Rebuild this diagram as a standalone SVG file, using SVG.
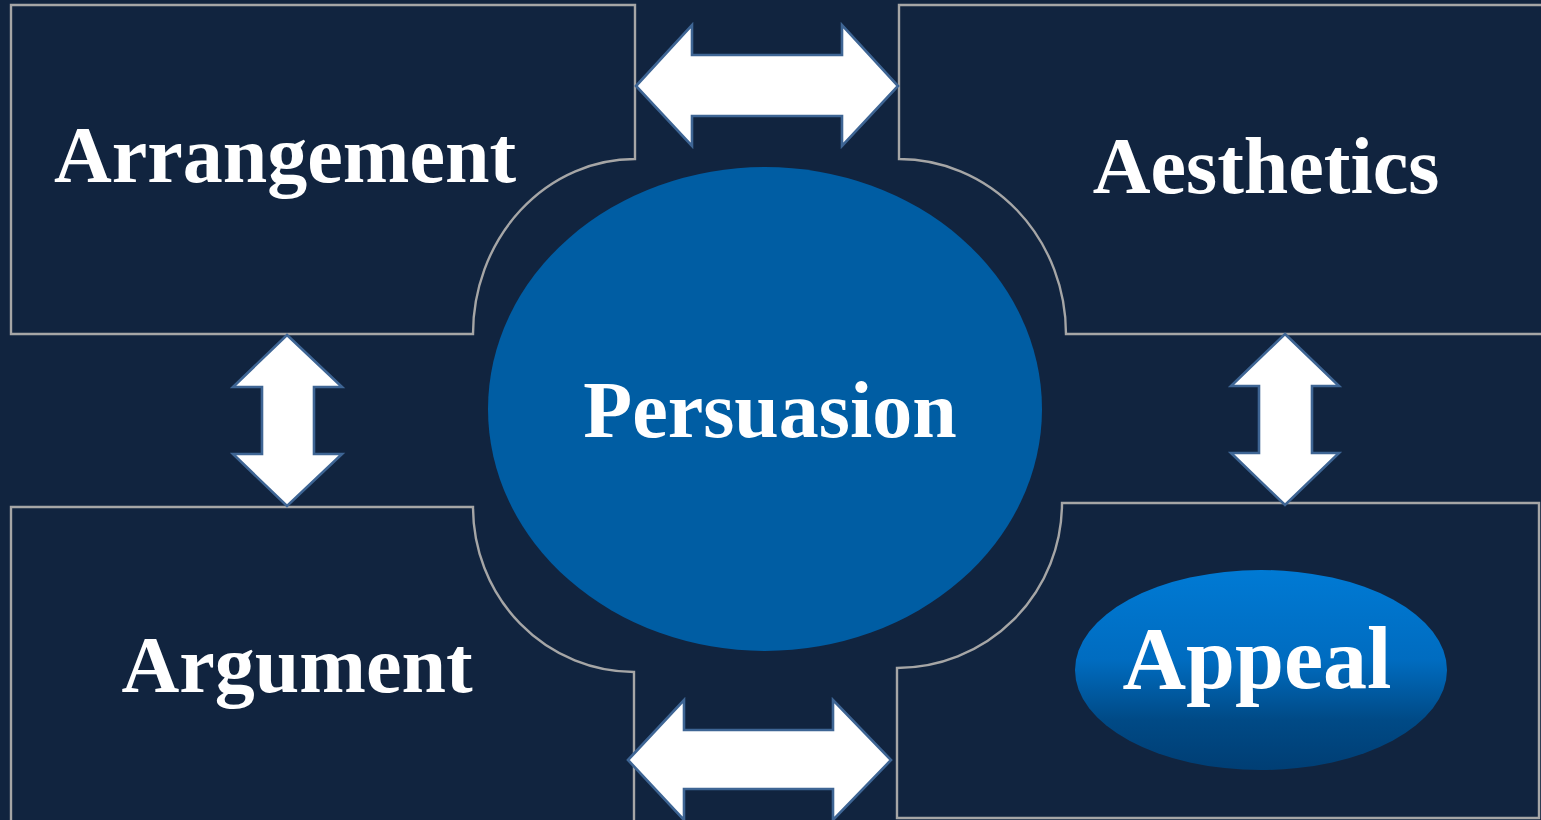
<svg xmlns="http://www.w3.org/2000/svg" width="1541" height="820" viewBox="0 0 1541 820">
<style>
.box{fill:#11243F;stroke:#A6A6A6;stroke-width:2.4}
.lbl{font-family:"Liberation Serif","Times New Roman",serif;font-weight:bold;fill:#FFFFFF;text-anchor:middle}
.arr{fill:#FFFFFF;stroke:#3E6594;stroke-width:2.6;stroke-linejoin:miter}
</style>
<defs>
<linearGradient id="appealGrad" x1="0" y1="0" x2="0" y2="1">
<stop offset="0" stop-color="#007AD4"/>
<stop offset="0.45" stop-color="#006CC0"/>
<stop offset="0.75" stop-color="#004A86"/>
<stop offset="1" stop-color="#003E74"/>
</linearGradient>
</defs>
<rect x="0" y="0" width="1541" height="820" fill="#11243F"/>
<g id="arrangement">
<path class="box" d="M11,5 H635 V159 A162,175 0 0 0 473,334 H11 Z"/>
<text class="lbl" x="285" y="182" font-size="80">Arrangement</text>
</g>
<g id="aesthetics">
<path class="box" d="M1543,5 H899 V159 A167,175 0 0 1 1066,334 H1543 Z"/>
<text class="lbl" x="1266" y="193" font-size="80">Aesthetics</text>
</g>
<g id="argument">
<path class="box" d="M11,507 H473 A161,165 0 0 0 634,672 V823 H11 Z"/>
<text class="lbl" x="297" y="692" font-size="80">Argument</text>
</g>
<g id="appeal-box">
<path class="box" d="M1062,503 H1539 V818 H897 V668 A165,165 0 0 0 1062,503 Z"/>
</g>
<g id="persuasion">
<ellipse cx="765" cy="409" rx="277" ry="242" fill="#005DA3"/>
<text class="lbl" x="770" y="437" font-size="80">Persuasion</text>
</g>
<g id="appeal">
<ellipse cx="1261" cy="670" rx="186" ry="100" fill="url(#appealGrad)"/>
<text class="lbl" x="1257" y="688" font-size="88">Appeal</text>
</g>
<g id="connectors">
<path class="arr" d="M636,86 L692,25 V55 H842 V25 L898,86 L842,146 V116 H692 V146 Z"/>
<path class="arr" d="M628,760 L684,700 V730 H833 V700 L891,760 L833,820 V789 H684 V820 Z"/>
<path class="arr" d="M287,335 L342,387 H314 V454 H342 L287,506 L233,454 H262 V387 H233 Z"/>
<path class="arr" d="M1285,334 L1339,386 H1312 V453 H1339 L1285,505 L1231,453 H1259 V386 H1231 Z"/>
</g>
</svg>
